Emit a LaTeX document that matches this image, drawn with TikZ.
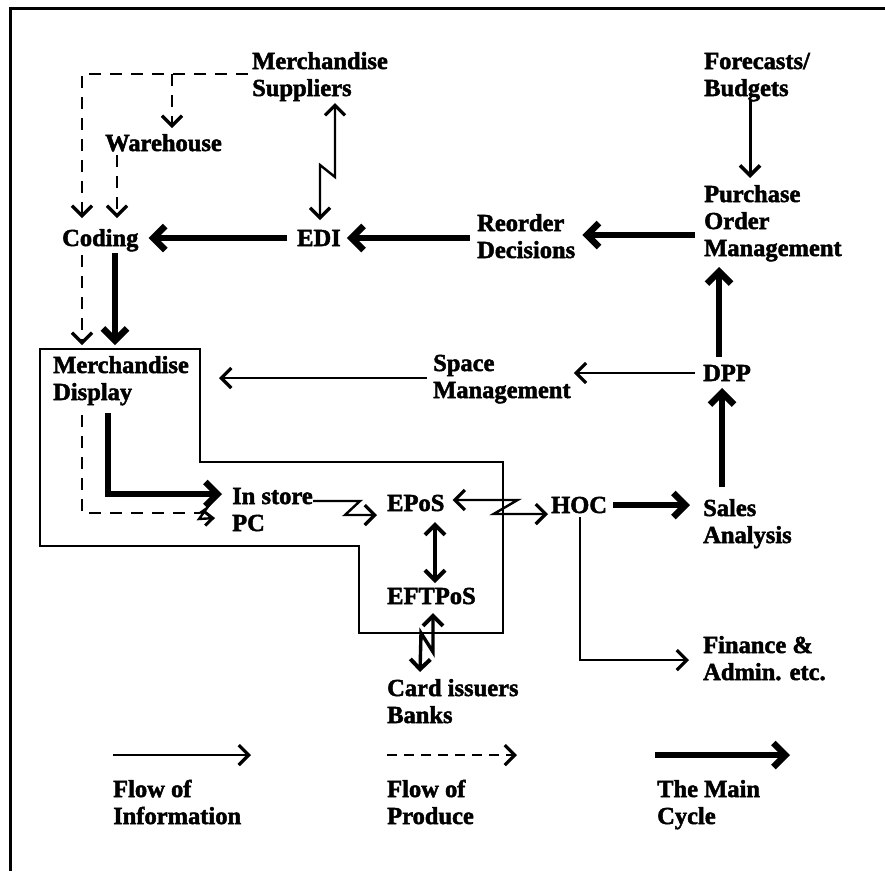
\documentclass[tikz,border=0pt]{standalone}
\usepackage{fontspec}
\setmainfont{Liberation Serif}[BoldFeatures={FakeBold=2}]
\usetikzlibrary{arrows.meta}
\begin{document}
\begin{tikzpicture}[x=1pt,y=-1pt,
  % every label is placed by the middle of its last line
  lbl/.style={font=\bfseries\fontsize{24.5}{27}\selectfont, anchor=west, align=left,
              inner sep=0pt, text height=16pt, text depth=0pt},
  info/.style={line width=2.4pt, -{Straight Barb[length=10pt,width=20pt,line width=3.2pt]}},
  infoboth/.style={line width=2.4pt, {Straight Barb[length=10pt,width=20pt,line width=3.2pt]}-{Straight Barb[length=10pt,width=20pt,line width=3.2pt]}},
  medboth/.style={line width=3.4pt, {Straight Barb[length=10pt,width=20pt,line width=4pt]}-{Straight Barb[length=10pt,width=20pt,line width=4pt]}},
  med/.style={line width=3pt, -{Straight Barb[length=10pt,width=20pt,line width=3.6pt]}},
  main/.style={line width=6.5pt, -{Straight Barb[length=12pt,width=24pt]}},
  produce/.style={line width=2.2pt, dash pattern=on 12pt off 9pt},
  producetip/.style={produce, -{Straight Barb[length=10pt,width=20pt,line width=3.2pt]}},
  boxline/.style={line width=2.2pt},
]
\useasboundingbox (0,0) rectangle (885,871);

% frame
\draw[line width=3pt] (885,8) -- (10,8) -- (10,871);

% labels
\node[lbl] (supp)    at (252,88)  {Merchandise\\Suppliers};
\node[lbl] (wh)      at (105,143) {Warehouse};
\node[lbl] (coding)  at (62,238)  {Coding};
\node[lbl] (edi)     at (297,238) {EDI};
\node[lbl] (reorder) at (477,250) {Reorder\\Decisions};
\node[lbl] (fore)    at (704,88)  {Forecasts/\\Budgets};
\node[lbl] (pom)     at (704,248) {Purchase\\Order\\Management};
\node[lbl] (dpp)     at (703,373) {DPP};
\node[lbl] (space)   at (433,390) {Space\\Management};
\node[lbl] (md)      at (53,392)  {Merchandise\\Display};
\node[lbl] (pc)      at (232,523) {In store\\PC};
\node[lbl] (epos)    at (387,503) {EPoS};
\node[lbl] (hoc)     at (551,505) {HOC};
\node[lbl] (sales)   at (703,535) {Sales\\Analysis};
\node[lbl] (eft)     at (387,596) {EFTPoS};
\node[lbl] (card)    at (387,715) {Card issuers\\Banks};
\node[lbl] (fin)     at (703,672) {Finance \&\\Admin. etc.};
\node[lbl] (leg1)    at (113,816) {Flow of\\Information};
\node[lbl] (leg2)    at (387,816) {Flow of\\Produce};
\node[lbl] (leg3)    at (657,816) {The Main\\Cycle};

% store boundary
\coordinate (b1) at (40,349);
\coordinate (b2) at (200,349);
\coordinate (b3) at (200,462);
\coordinate (b4) at (503,462);
\coordinate (b5) at (503,633);
\coordinate (b6) at (359,633);
\coordinate (b7) at (359,546);
\coordinate (b8) at (40,546);
\draw[boxline] (b1) -- (b2) -- (b3) -- (b4) -- (b5) -- (b6) -- (b7) -- (b8) -- cycle;

% flow of produce
\coordinate (wb) at (172,74);
\draw[producetip] ([shift={(-4,-14)}]supp.west) -| ([shift={(20,-20)}]coding.west);
\draw[producetip] (wb) -- ([shift={(67,-15)}]wh.west);
\draw[producetip] ([shift={(12,12)}]wh.west) -- ([shift={(55,-20)}]coding.west);
\draw[producetip] ([shift={(20,17)}]coding.west) -- ([shift={(42,-4)}]b1);
\coordinate (dz) at ([shift={(-32,-10)}]pc.west);
\draw[produce] ([shift={(29,23)}]md.west) |- (dz);
\draw[line width=2.4pt, -{Straight Barb[length=8pt,width=14pt,line width=3pt]}]
  (dz) -- ++(7,-5) -- ++(-8,11) -- ([shift={(-17,-5)}]pc.west);

% main cycle
\draw[main] ([shift={(-10,0)}]edi.west) -- ([shift={(10,0)}]coding.east);
\draw[main] ([shift={(-7,-12)}]reorder.west) -- ([shift={(6,0)}]edi.east);
\draw[main] ([shift={(-9,-13)}]pom.west) -- ([shift={(7,-15)}]reorder.east);
\draw[main] ([shift={(53,15)}]coding.west) -- ([shift={(75,-4)}]b1);
\draw[main] ([shift={(55,21)}]md.west) |- ([shift={(-10,-29)}]pc.west);
\draw[main] ([shift={(6,0)}]hoc.east) -- ([shift={(-13,-30)}]sales.west);
\draw[main] ([shift={(19,-48)}]sales.west) -- ([shift={(19,15)}]dpp.west);
\draw[main] ([shift={(16,-16)}]dpp.west) -- ([shift={(15,19)}]pom.west);

% flow of information
\draw[med] ([shift={(46,12)}]fore.west) -- ([shift={(46,-70)}]pom.west);
\draw[info] ([shift={(-8,0)}]dpp.west) -- ([shift={(3,-17)}]space.east);
\draw[info] ([shift={(-6,-12)}]space.west) -- ([shift={(19,29)}]b2);
\draw[infoboth] ([shift={(83,15)}]supp.west) -- ++(0,74) -- ++(-15,-12)
  -- ([shift={(23,-18)}]edi.west);
\draw[info] ([shift={(81,-22)}]pc.west) -- ++(47,0) -- ++(-15,14) -- ([shift={(-10,12)}]epos.west);
\draw[infoboth] ([shift={(8,-3)}]epos.east) -- ++(65,0) -- ++(-24,14) -- ([shift={(-3,9)}]hoc.west);
\draw[medboth] ([shift={(48,19)}]epos.west) -- ([shift={(48,-13)}]eft.west);
\draw[medboth] ([shift={(46,17)}]eft.west) -- ++(0,39) -- ++(-12,-19)
  -- ([shift={(33,-43)}]card.west);
\draw[info] ([shift={(29,12)}]hoc.west) |- ([shift={(-14,-12)}]fin.west);

% legend
\draw[info] ([shift={(0,-61)}]leg1.west) -- ++(138,0);
\draw[line width=2.2pt, dash pattern=on 10pt off 7pt, -{Straight Barb[length=10pt,width=20pt,line width=3.2pt]}]
  ([shift={(0,-61)}]leg2.west) -- ++(130,0);
\draw[main] ([shift={(-2,-61)}]leg3.west) -- ++(135,0);
\end{tikzpicture}
\end{document}
